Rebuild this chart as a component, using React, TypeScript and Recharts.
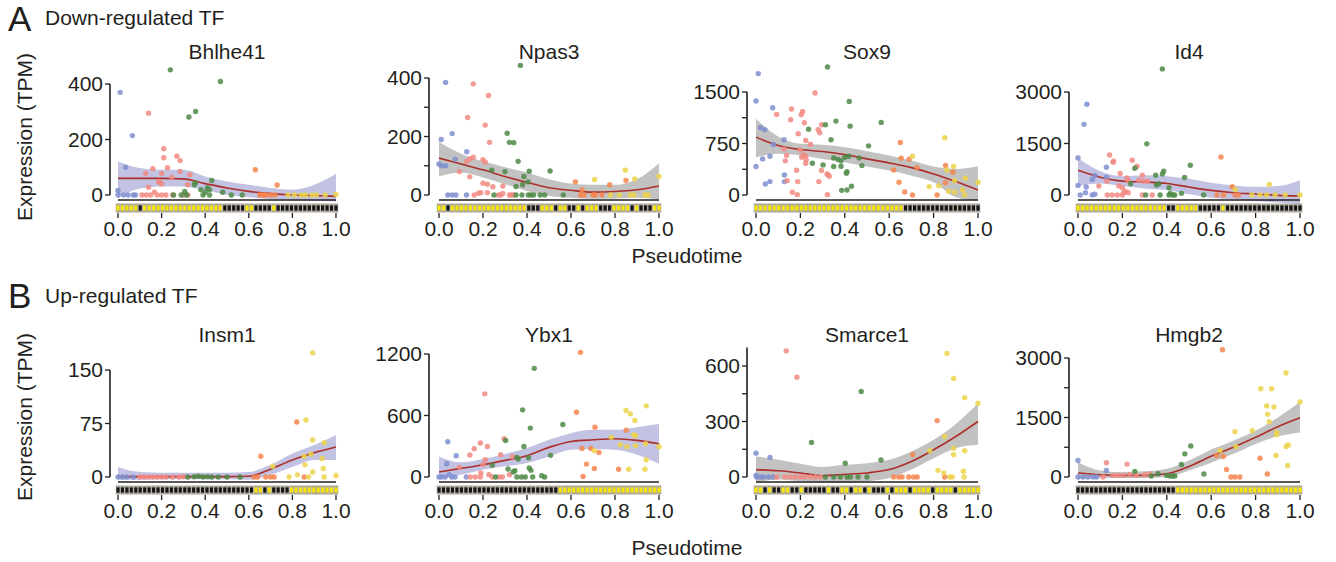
import { ComposedChart, Scatter, Area, Line, XAxis, YAxis, ReferenceLine } from "recharts"

type Pt = [number, number, number]
type Run = [string, number]

// groups of cells along pseudotime, from early to late
const groupColors = ["#7f8fd0", "#f28a82", "#4e8a45", "#f6854d", "#ecd44a"]
const pseudotimeTicks = [0, 0.2, 0.4, 0.6, 0.8, 1]
const fitX = [0, 0.1, 0.2, 0.3, 0.4, 0.5, 0.6, 0.7, 0.8, 0.9, 1]

// ---- Bhlhe41
const bhlhe41Points: Pt[] = [
  [0.01, 370, 0], [0.066, 214, 0], [0.035, 100, 0], [0, 16, 0], [0, 0, 0], [0.026, 0, 0], [0.046, 0, 0], [0.07, 0, 0], [0.08, 0, 0],
  [0.14, 295, 1], [0.21, 167, 1], [0.21, 134, 1], [0.27, 140, 1], [0.285, 124, 1], [0.227, 98, 1], [0.16, 95, 1], [0.127, 78, 1],
  [0.2, 78, 1], [0.285, 85, 1], [0.33, 73, 1], [0.247, 64, 1], [0.187, 49, 1], [0.2, 40, 1], [0.19, 46, 1], [0.14, 28, 1],
  [0.167, 10, 1], [0.32, 37, 1], [0.11, 0, 1], [0.13, 0, 1], [0.15, 0, 1], [0.18, 0, 1], [0.2, 0, 1], [0.22, 0, 1], [0.25, 0, 1],
  [0.3, 0, 1], [0.32, 0, 1],
  [0.24, 451, 2], [0.47, 409, 2], [0.356, 301, 2], [0.325, 281, 2], [0.43, 52, 2], [0.35, 37, 2], [0.355, 43, 2], [0.306, 13, 2],
  [0.38, 19, 2], [0.4, 10, 2], [0.41, 25, 2], [0.42, 19, 2], [0.48, 10, 2], [0.52, 0, 2], [0.57, 0, 2], [0.29, 0, 2], [0.255, 0, 2],
  [0.39, 0, 2], [0.42, 0, 2], [0.315, 0, 2],
  [0.63, 91, 3], [0.73, 36, 3], [0.65, 0, 3], [0.66, 0, 3], [0.67, 0, 3], [0.68, 0, 3], [0.7, 0, 3], [0.72, 0, 3],
  [0.78, 0, 4], [0.81, 0, 4], [0.84, 0, 4], [0.86, 0, 4], [0.89, 0, 4], [0.91, 0, 4], [0.95, 0, 4], [1.0, 2, 4],
]
const bhlhe41Fit = [60, 60, 60, 58, 41, 25, 13, 5, 0, -2, -5]
const bhlhe41Lo = [-11, 23, 31, 31, 17, 1, -8, -14, -17, -20, -23]
const bhlhe41Hi = [121, 97, 91, 91, 67, 49, 37, 25, 19, 37, 77]
const bhlhe41Strip: Run[] = [["Y", 5], ["K", 1], ["Y", 18], ["K", 5], ["Y", 2], ["K", 4], ["Y", 1], ["K", 14]]

// ---- Npas3
const npas3Points: Pt[] = [
  [0.03, 385, 0], [0.01, 190, 0], [0.06, 210, 0], [0, 106, 0], [0.01, 100, 0], [0.03, 100, 0], [0.074, 122, 0], [0.126, 148, 0],
  [0.04, 0, 0], [0.06, 0, 0], [0.077, 0, 0], [0.125, 0, 0],
  [0.156, 380, 1], [0.225, 340, 1], [0.13, 265, 1], [0.21, 239, 1], [0.23, 180, 1], [0.156, 129, 1], [0.14, 123, 1], [0.125, 115, 1],
  [0.2, 121, 1], [0.21, 112, 1], [0.093, 80, 1], [0.14, 62, 1], [0.2, 40, 1], [0.22, 37, 1], [0.245, 28, 1], [0.29, 31, 1],
  [0.16, 0, 1], [0.18, 6, 1], [0.19, 8, 1], [0.22, 8, 1], [0.27, 0, 1], [0.28, 0, 1], [0.29, 5, 1], [0.32, 0, 1], [0.33, 0, 1], [0.34, 0, 1],
  [0.37, 443, 2], [0.31, 211, 2], [0.32, 180, 2], [0.34, 179, 2], [0.36, 115, 2], [0.24, 85, 2], [0.3, 80, 2], [0.41, 81, 2],
  [0.505, 82, 2], [0.386, 63, 2], [0.38, 35, 2], [0.35, 29, 2], [0.405, 45, 2], [0.25, 0, 2], [0.35, 0, 2], [0.377, 0, 2],
  [0.406, 0, 2], [0.418, 0, 2], [0.43, 0, 2], [0.46, 0, 2], [0.48, 0, 2], [0.565, 0, 2],
  [0.62, 45, 3], [0.65, 17, 3], [0.776, 35, 3], [0.85, 50, 3], [0.644, 0, 3], [0.66, 0, 3], [0.7, 0, 3], [0.71, 0, 3], [0.74, 0, 3],
  [0.707, 53, 4], [0.847, 85, 4], [0.89, 55, 4], [1.0, 63, 4], [0.78, 0, 4], [0.82, 0, 4], [0.87, 0, 4], [0.885, 0, 4],
  [0.937, 0, 4], [0.95, 0, 4],
]
const npas3Fit = [126, 106, 86, 63, 43, 25, 16, 10, 12, 18, 31]
const npas3Lo = [63, 77, 60, 37, 14, -3, -9, -13, -12, -9, -15]
const npas3Hi = [181, 141, 115, 95, 77, 54, 39, 35, 35, 54, 108]
const npas3Strip: Run[] = [
  ["Y", 2], ["K", 1], ["Y", 17], ["K", 3], ["Y", 3], ["K", 1], ["Y", 2], ["K", 2], ["Y", 1],
  ["K", 1], ["Y", 3], ["K", 3], ["Y", 4], ["K", 1], ["Y", 1], ["K", 3], ["Y", 2],
]

// ---- Sox9
const sox9Points: Pt[] = [
  [0.01, 1768, 0], [0, 1368, 0], [0.075, 1271, 0], [0.02, 979, 0], [0.04, 950, 0], [0, 414, 0], [0.03, 526, 0], [0.063, 565, 0],
  [0.078, 735, 0], [0.126, 804, 0], [0.128, 292, 0], [0.128, 195, 0], [0.042, 161, 0], [0.063, 195, 0],
  [0.093, 1174, 1], [0.16, 1252, 1], [0.21, 1217, 1], [0.204, 1169, 1], [0.156, 1096, 1], [0.218, 1052, 1], [0.266, 1485, 1],
  [0.296, 1022, 1], [0.28, 950, 1], [0.287, 906, 1], [0.19, 891, 1], [0.224, 794, 1], [0.245, 740, 1], [0.126, 672, 1],
  [0.2, 657, 1], [0.214, 584, 1], [0.138, 575, 1], [0.206, 550, 1], [0.224, 570, 1], [0.226, 511, 1], [0.132, 497, 1],
  [0.224, 463, 1], [0.295, 356, 1], [0.32, 307, 1], [0.33, 273, 1], [0.323, 297, 1], [0.183, 360, 1], [0.14, 209, 1],
  [0.188, 195, 1], [0.283, 195, 1], [0.164, 39, 1], [0.186, 5, 1], [0.322, 5, 1],
  [0.322, 1865, 2], [0.42, 1363, 2], [0.313, 1022, 2], [0.36, 1076, 2], [0.424, 1003, 2], [0.237, 959, 2], [0.564, 1057, 2],
  [0.338, 804, 2], [0.507, 716, 2], [0.35, 540, 2], [0.383, 497, 2], [0.4, 550, 2], [0.418, 565, 2], [0.37, 516, 2],
  [0.465, 540, 2], [0.35, 414, 2], [0.383, 419, 2], [0.41, 341, 2], [0.407, 317, 2], [0.477, 428, 2], [0.254, 463, 2],
  [0.302, 438, 2], [0.386, 68, 2], [0.41, 73, 2], [0.43, 127, 2],
  [0.65, 765, 3], [0.654, 536, 3], [0.69, 521, 3], [0.725, 399, 3], [0.62, 365, 3], [0.644, 185, 3], [0.67, 44, 3],
  [0.705, 0, 3], [0.816, 0, 3], [0.853, 180, 3], [0.887, 331, 3], [0.854, 429, 3],
  [0.85, 833, 4], [0.705, 565, 4], [0.89, 414, 4], [0.86, 365, 4], [0.78, 122, 4], [0.823, 136, 4], [0.895, 209, 4],
  [0.943, 244, 4], [0.93, 73, 4], [1.0, 185, 4], [0.895, 39, 4], [0.868, 54, 4], [0.94, 0, 4],
]
const sox9Fit = [843, 721, 662, 633, 589, 526, 467, 399, 307, 195, 73]
const sox9Lo = [550, 599, 575, 526, 477, 414, 356, 282, 185, -34, -83]
const sox9Hi = [1110, 852, 745, 730, 696, 638, 575, 502, 414, 380, 414]
const sox9Strip: Run[] = [["Y", 33], ["K", 17]]

// ---- Id4
const id4Points: Pt[] = [
  [0.04, 2644, 0], [0.027, 2058, 0], [0, 1077, 0], [0, 279, 0], [0.037, 231, 0], [0.01, 0, 0], [0.034, 67, 0], [0.064, 452, 0],
  [0.076, 567, 0], [0.128, 808, 0], [0.128, 519, 0], [0.064, 0, 0], [0.076, 20, 0],
  [0.142, 1163, 1], [0.16, 981, 1], [0.158, 952, 1], [0.244, 1010, 1], [0.266, 837, 1], [0.19, 625, 1], [0.29, 577, 1],
  [0.094, 260, 1], [0.13, 404, 1], [0.22, 500, 1], [0.225, 423, 1], [0.274, 433, 1], [0.296, 404, 1], [0.314, 404, 1],
  [0.184, 260, 1], [0.2, 212, 1], [0.214, 106, 1], [0.226, 67, 1], [0.206, 67, 1], [0.177, 0, 1], [0.2, 0, 1], [0.132, 0, 1],
  [0.154, 0, 1], [0.29, 0, 1], [0.334, 0, 1],
  [0.38, 3673, 2], [0.31, 1490, 2], [0.506, 865, 2], [0.256, 779, 2], [0.386, 692, 2], [0.38, 615, 2], [0.35, 577, 2],
  [0.48, 510, 2], [0.237, 327, 2], [0.353, 288, 2], [0.364, 327, 2], [0.41, 211, 2], [0.466, 48, 2], [0.416, 48, 2],
  [0.428, 0, 2], [0.436, 0, 2], [0.41, 0, 2], [0.37, 0, 2], [0.305, 0, 2], [0.566, 0, 2],
  [0.644, 1106, 3], [0.656, 0, 3], [0.695, 240, 3], [0.626, 0, 3], [0.708, 0, 3], [0.723, 0, 3],
  [0.862, 308, 4], [0.783, 0, 4], [0.82, 0, 4], [0.85, 0, 4], [0.888, 0, 4], [0.933, 0, 4], [1.0, 0, 4], [0.708, 163, 4],
]
const id4Fit = [721, 519, 404, 375, 337, 231, 135, 67, 29, -10, -29]
const id4Lo = [260, 337, 260, 192, 144, 19, -77, -125, -173, -221, -269]
const id4Hi = [1077, 692, 548, 577, 548, 471, 356, 279, 240, 260, 433]
const id4Strip: Run[] = [["Y", 20], ["K", 2], ["Y", 5], ["K", 5], ["Y", 1], ["K", 17]]

// ---- Insm1
const insm1Points: Pt[] = [
  [0, 0, 0], [0.02, 0, 0], [0.04, 0, 0], [0.07, 0, 0],
  [0.1, 0, 1], [0.12, 0, 1], [0.14, 0, 1], [0.16, 0, 1], [0.18, 0, 1], [0.2, 0, 1], [0.22, 0, 1], [0.25, 0, 1], [0.28, 0, 1], [0.3, 0.5, 1],
  [0.32, 0, 2], [0.35, 0.5, 2], [0.37, 1, 2], [0.39, 0, 2], [0.41, 0.5, 2], [0.43, 0, 2], [0.46, 0, 2], [0.5, 0, 2], [0.56, 0, 2],
  [0.655, 29, 3], [0.82, 77, 3], [0.624, 0, 3], [0.64, 0, 3], [0.678, 0, 3], [0.7, 0, 3], [0.716, 0, 3], [0.854, 0, 3],
  [0.893, 174, 4], [0.862, 80, 4], [0.893, 52, 4], [0.946, 48, 4], [0.854, 29, 4], [0.885, 32, 4], [0.936, 26, 4],
  [0.858, 17, 4], [0.893, 7, 4], [0.942, 12, 4], [0.823, 3, 4], [0.785, 0, 4], [0.874, 0, 4], [0.946, 0, 4], [1.0, 2, 4],
  [0.71, 15, 4],
]
const insm1Fit = [0.5, 0.5, 0.5, 0.5, 0.5, 0.5, 1, 11, 24, 34, 42]
const insm1Lo = [-4, -4, -3, -3, -3, -3, -4, 3, 14, 24, 24]
const insm1Hi = [14, 7, 6, 6, 6, 6, 7, 17, 33, 45, 59]
const insm1Strip: Run[] = [["K", 31], ["Y", 2], ["K", 1], ["Y", 1], ["K", 4], ["Y", 11]]

// ---- Ybx1
const ybx1Points: Pt[] = [
  [0.04, 344, 0], [0.035, 130, 0], [0.078, 208, 0], [0.047, 23, 0], [0, 0, 0], [0.012, 0, 0], [0.028, 0, 0], [0.058, 0, 0],
  [0.073, 0, 0], [0.124, 0, 0],
  [0.208, 811, 1], [0.188, 331, 1], [0.22, 298, 1], [0.16, 276, 1], [0.296, 373, 1], [0.14, 214, 1], [0.28, 217, 1],
  [0.334, 198, 1], [0.21, 169, 1], [0.2, 123, 1], [0.093, 94, 1], [0.19, 39, 1], [0.227, 23, 1], [0.32, 23, 1],
  [0.142, 0, 1], [0.165, 0, 1], [0.188, 0, 1], [0.242, 0, 1], [0.273, 0, 1], [0.288, 0, 1],
  [0.433, 1060, 2], [0.38, 655, 2], [0.563, 512, 2], [0.415, 477, 2], [0.303, 357, 2], [0.386, 298, 2], [0.507, 211, 2],
  [0.242, 114, 2], [0.354, 191, 2], [0.36, 175, 2], [0.407, 188, 2], [0.41, 88, 2], [0.314, 78, 2], [0.345, 62, 2],
  [0.337, 49, 2], [0.418, 65, 2], [0.467, 13, 2], [0.257, 0, 2], [0.354, 0, 2], [0.375, 0, 2], [0.392, 0, 2], [0.426, 0, 2],
  [0.48, 0, 2],
  [0.643, 1216, 3], [0.625, 632, 3], [0.709, 486, 3], [0.851, 457, 3], [0.65, 279, 3], [0.69, 279, 3], [0.727, 240, 3],
  [0.67, 126, 3], [0.706, 84, 3], [0.816, 75, 3], [0.655, 6, 3],
  [0.85, 649, 4], [0.87, 616, 4], [0.89, 551, 4], [0.942, 694, 4], [0.783, 389, 4], [0.885, 412, 4], [0.893, 402, 4],
  [0.824, 315, 4], [0.854, 295, 4], [0.893, 305, 4], [0.939, 324, 4], [1.0, 295, 4], [0.706, 256, 4], [0.942, 169, 4],
  [0.862, 75, 4], [0.936, 75, 4],
]
const ybx1Fit = [49, 84, 120, 162, 208, 289, 347, 363, 373, 357, 324]
const ybx1Lo = [-10, 23, 71, 104, 136, 201, 266, 272, 266, 217, 130]
const ybx1Hi = [201, 143, 175, 224, 282, 363, 428, 460, 460, 486, 516]
const ybx1Strip: Run[] = [["K", 27], ["Y", 23]]

// ---- Smarce1
const smarce1Points: Pt[] = [
  [0, 129, 0], [0.063, 106, 0], [0, 9, 0], [0.018, 0, 0], [0.033, 0, 0], [0.056, 0, 0], [0.078, 0, 0], [0.003, 0, 0],
  [0.136, 682, 1], [0.184, 539, 1], [0.13, 0, 1], [0.154, 0, 1], [0.176, 0, 1], [0.2, 0, 1], [0.22, 0, 1], [0.244, 0, 1],
  [0.267, 0, 1], [0.29, 0, 1], [0.093, 0, 1],
  [0.474, 462, 2], [0.25, 187, 2], [0.563, 92, 2], [0.402, 75, 2], [0.312, 0, 2], [0.35, 0, 2], [0.38, 0, 2], [0.41, 0, 2],
  [0.425, 0, 2], [0.46, 0, 2], [0.5, 0, 2],
  [0.816, 305, 3], [0.706, 120, 3], [0.85, 0, 3], [0.62, 0, 3], [0.643, 0, 3], [0.658, 0, 3], [0.688, 0, 3], [0.71, 0, 3], [0.726, 0, 3],
  [0.86, 668, 4], [0.89, 533, 4], [0.94, 429, 4], [1.0, 399, 4], [0.85, 219, 4], [0.89, 156, 4], [0.94, 142, 4], [0.89, 120, 4],
  [0.783, 142, 4], [0.82, 36, 4], [0.846, 22, 4], [0.934, 31, 4], [0.937, 0, 4], [0.873, 0, 4], [0.884, 0, 4],
]
const smarce1Fit = [40, 34, 22, 7, 14, 22, 40, 84, 147, 219, 300]
const smarce1Lo = [-32, -14, -23, -29, -32, -23, -5, 40, 102, 156, 174]
const smarce1Hi = [111, 93, 72, 54, 66, 75, 93, 138, 201, 287, 399]
const smarce1Strip: Run[] = [
  ["Y", 2], ["K", 1], ["Y", 1], ["K", 2], ["Y", 2], ["K", 2], ["Y", 1], ["K", 5], ["Y", 1], ["K", 2], ["Y", 2], ["K", 1],
  ["Y", 2], ["K", 1], ["Y", 1], ["K", 3], ["Y", 1], ["K", 1], ["Y", 3], ["K", 1], ["Y", 4], ["K", 1], ["Y", 4], ["K", 1], ["Y", 5],
]

// ---- Hmgb2
const hmgb2Points: Pt[] = [
  [0, 417, 0], [0.128, 167, 0], [0, 0, 0], [0.023, 0, 0], [0.045, 0, 0], [0.068, 0, 0], [0.083, 0, 0],
  [0.128, 358, 1], [0.221, 325, 1], [0.113, 0, 1], [0.158, 40, 1], [0.18, 40, 1], [0.203, 40, 1], [0.233, 58, 1],
  [0.263, 40, 1], [0.3, 58, 1], [0.323, 83, 1],
  [0.508, 783, 2], [0.481, 583, 2], [0.466, 317, 2], [0.256, 142, 2], [0.567, 75, 2], [0.36, 83, 2], [0.4, 40, 2],
  [0.414, 25, 2], [0.426, 25, 2], [0.436, 25, 2], [0.33, 25, 2],
  [0.651, 3208, 3], [0.82, 475, 3], [0.853, 75, 3], [0.669, 192, 3], [0.624, 542, 3], [0.654, 517, 3], [0.689, 0, 3],
  [0.707, 0, 3], [0.729, 0, 3],
  [0.937, 2625, 4], [0.823, 2225, 4], [0.872, 2225, 4], [1.0, 1892, 4], [0.85, 1792, 4], [0.883, 1767, 4], [0.854, 1583, 4],
  [0.862, 1392, 4], [0.785, 1167, 4], [0.707, 1142, 4], [0.895, 1125, 4], [0.895, 1067, 4], [0.711, 767, 4], [0.947, 808, 4],
  [0.937, 767, 4], [0.892, 542, 4], [0.944, 292, 4], [0.64, 667, 4],
]
const hmgb2Fit = [100, 58, 42, 42, 83, 267, 525, 750, 1000, 1267, 1492]
const hmgb2Lo = [-58, -25, -25, -25, 0, 167, 358, 583, 833, 1025, 1125]
const hmgb2Hi = [375, 167, 125, 142, 208, 417, 692, 917, 1167, 1500, 1892]
const hmgb2Strip: Run[] = [["K", 22], ["Y", 28]]

const FONT = "'Liberation Sans', Arial, Helvetica, sans-serif"
const INK = "#231f20"

const cols = [
  { axis: 110, x0: 118, x1: 336 },
  { axis: 429, x0: 439, x1: 659 },
  { axis: 747, x0: 756, x1: 978 },
  { axis: 1069, x0: 1078, x1: 1300 },
]
const rows = [
  { plotTop: 58, zero: 195, titleY: 52 },
  { plotTop: 344, zero: 477, titleY: 335 },
]

const panels = [
  { name: "Bhlhe41", row: 0, col: 0, pts: bhlhe41Points, fit: bhlhe41Fit, lo: bhlhe41Lo, hi: bhlhe41Hi, strip: bhlhe41Strip, ticks: [0, 200, 400], labels: [0, 200, 400], topPx: 84, axisTop: 400, band: "#aeaed9" },
  { name: "Npas3", row: 0, col: 1, pts: npas3Points, fit: npas3Fit, lo: npas3Lo, hi: npas3Hi, strip: npas3Strip, ticks: [0, 100, 200, 300, 400], labels: [0, 200, 400], topPx: 78, axisTop: 400, band: "#aeaeae" },
  { name: "Sox9", row: 0, col: 2, pts: sox9Points, fit: sox9Fit, lo: sox9Lo, hi: sox9Hi, strip: sox9Strip, ticks: [0, 375, 750, 1125, 1500], labels: [0, 750, 1500], topPx: 92, axisTop: 1500, band: "#aeaeae" },
  { name: "Id4", row: 0, col: 3, pts: id4Points, fit: id4Fit, lo: id4Lo, hi: id4Hi, strip: id4Strip, ticks: [0, 1500, 3000], labels: [0, 1500, 3000], topPx: 92, axisTop: 3000, band: "#aeaed9" },
  { name: "Insm1", row: 1, col: 0, pts: insm1Points, fit: insm1Fit, lo: insm1Lo, hi: insm1Hi, strip: insm1Strip, ticks: [0, 75, 150], labels: [0, 75, 150], topPx: 370, axisTop: 150, band: "#aeaed9" },
  { name: "Ybx1", row: 1, col: 1, pts: ybx1Points, fit: ybx1Fit, lo: ybx1Lo, hi: ybx1Hi, strip: ybx1Strip, ticks: [0, 600, 1200], labels: [0, 600, 1200], topPx: 354, axisTop: 1200, band: "#aeaed9" },
  { name: "Smarce1", row: 1, col: 2, pts: smarce1Points, fit: smarce1Fit, lo: smarce1Lo, hi: smarce1Hi, strip: smarce1Strip, ticks: [0, 150, 300, 450, 600], labels: [0, 300, 600], topPx: 366, axisTop: 700, band: "#aeaeae" },
  { name: "Hmgb2", row: 1, col: 3, pts: hmgb2Points, fit: hmgb2Fit, lo: hmgb2Lo, hi: hmgb2Hi, strip: hmgb2Strip, ticks: [0, 750, 1500, 2250, 3000], labels: [0, 1500, 3000], topPx: 358, axisTop: 3000, band: "#aeaeae" },
]

function Panel({ p }: { p: (typeof panels)[number] }) {
  const col = cols[p.col]
  const row = rows[p.row]
  const k = col.x1 - col.x0
  const plotRight = col.x1 + 6
  const plotBottom = row.zero + 18
  const topVal = p.ticks[p.ticks.length - 1]
  const s = (row.zero - p.topPx) / topVal
  const xMin = -(col.x0 - col.axis) / k
  const xMax = 1 + (plotRight - col.x1) / k
  const yMin = -(plotBottom - row.zero) / s
  const yMax = topVal + (p.topPx - row.plotTop) / s
  const yAxisW = 60
  const mTop = 4
  const mRight = 24
  const xAxisH = 44
  const width = yAxisW + (plotRight - col.axis) + mRight
  const height = mTop + (plotBottom - row.plotTop) + xAxisH

  const n = p.strip.reduce((a, r) => a + r[1], 0)
  const cells: { x: number; y: number; c: string }[] = []
  p.strip.forEach(([c, cnt]) => {
    for (let i = 0; i < cnt; i++) cells.push({ x: cells.length / (n - 1), y: -13 / s, c })
  })
  const pitch = k / (n - 1)

  const fitData = fitX.map((x, i) => ({ x, y: p.fit[i], range: [p.lo[i], p.hi[i]] }))
  const lineY = -5 / s

  const tickStyle = { fontSize: 21, fill: INK, fontFamily: FONT }

  return (
    <div style={{ position: "absolute", left: col.axis - yAxisW, top: row.plotTop - mTop }}>
      <ComposedChart width={width} height={height} margin={{ top: mTop, right: mRight, bottom: 0, left: 0 }}>
        <XAxis
          type="number"
          dataKey="x"
          domain={[xMin, xMax]}
          allowDataOverflow
          ticks={pseudotimeTicks}
          interval={0}
          tickFormatter={(v: number) => v.toFixed(1)}
          axisLine={false}
          tickLine={{ stroke: INK, strokeWidth: 1.3 }}
          tickSize={5}
          tickMargin={3}
          height={xAxisH}
          tick={tickStyle}
        />
        <YAxis
          type="number"
          domain={[yMin, yMax]}
          allowDataOverflow
          ticks={p.ticks}
          interval={0}
          tickFormatter={(v: number) => (p.labels.includes(v) ? String(v) : "")}
          width={yAxisW}
          axisLine={false}
          tickLine={{ stroke: INK, strokeWidth: 1.3 }}
          tickSize={5}
          tickMargin={2}
          tick={tickStyle}
        />
        <Scatter
          data={cells}
          dataKey="y"
          isAnimationActive={false}
          shape={(props: any) => (
            <g>
              <rect x={props.cx - pitch / 2} y={props.cy - 4.5} width={pitch} height={9} fill="#aaa499" />
              <rect
                x={props.cx - pitch / 2 + 0.7}
                y={props.cy - 2.6}
                width={pitch - 1.4}
                height={5.2}
                fill={props.payload.c === "Y" ? "#f7e600" : "#151515"}
              />
            </g>
          )}
        />
        {groupColors.map((color, g) => (
          <Scatter
            key={g}
            data={p.pts.filter((d) => d[2] === g).map((d) => ({ x: d[0], y: d[1] }))}
            dataKey="y"
            isAnimationActive={false}
            shape={(props: any) => <circle cx={props.cx} cy={props.cy} r={2.7} fill={color} fillOpacity={0.85} />}
          />
        ))}
        <Area
          data={fitData}
          dataKey="range"
          type="monotone"
          stroke="none"
          fill={p.band}
          fillOpacity={0.75}
          isAnimationActive={false}
        />
        <Line data={fitData} dataKey="y" type="monotone" stroke="#ac2f2a" strokeWidth={1.6} dot={false} isAnimationActive={false} />
        <ReferenceLine
          segment={[{ x: 0, y: lineY }, { x: 1, y: lineY }]}
          stroke={INK}
          strokeWidth={1.6}
          ifOverflow="visible"
        />
        <ReferenceLine
          segment={[{ x: xMin, y: 0 }, { x: xMin, y: p.axisTop }]}
          stroke={INK}
          strokeWidth={1.6}
          ifOverflow="visible"
        />
      </ComposedChart>
    </div>
  )
}

const txt = (extra: any) => ({ position: "absolute" as const, whiteSpace: "nowrap" as const, color: INK, ...extra })

export default function App() {
  return (
    <div style={{ position: "absolute", left: 0, top: 0, width: 1336, height: 562, background: "#fff", fontFamily: FONT, overflow: "hidden" }}>
      {panels.map((p) => (
        <Panel key={p.name} p={p} />
      ))}
      {panels.map((p) => (
        <div
          key={"t" + p.name}
          style={txt({ left: (cols[p.col].x0 + cols[p.col].x1) / 2, top: rows[p.row].titleY, transform: "translate(-50%, -50%)", fontSize: 21 })}
        >
          {p.name}
        </div>
      ))}
      <div style={txt({ left: 8, top: 0, fontSize: 35, lineHeight: "38px" })}>A</div>
      <div style={txt({ left: 45, top: 6, fontSize: 21, lineHeight: "24px" })}>Down-regulated TF</div>
      <div style={txt({ left: 8, top: 277, fontSize: 35, lineHeight: "38px" })}>B</div>
      <div style={txt({ left: 45, top: 284, fontSize: 21, lineHeight: "24px" })}>Up-regulated TF</div>
      <div style={txt({ left: 687, top: 256, transform: "translate(-50%, -50%)", fontSize: 21 })}>Pseudotime</div>
      <div style={txt({ left: 687, top: 548, transform: "translate(-50%, -50%)", fontSize: 21 })}>Pseudotime</div>
      <div style={txt({ left: 25, top: 137, transform: "translate(-50%, -50%) rotate(-90deg)", fontSize: 21 })}>Expression (TPM)</div>
      <div style={txt({ left: 25, top: 417, transform: "translate(-50%, -50%) rotate(-90deg)", fontSize: 21 })}>Expression (TPM)</div>
    </div>
  )
}
